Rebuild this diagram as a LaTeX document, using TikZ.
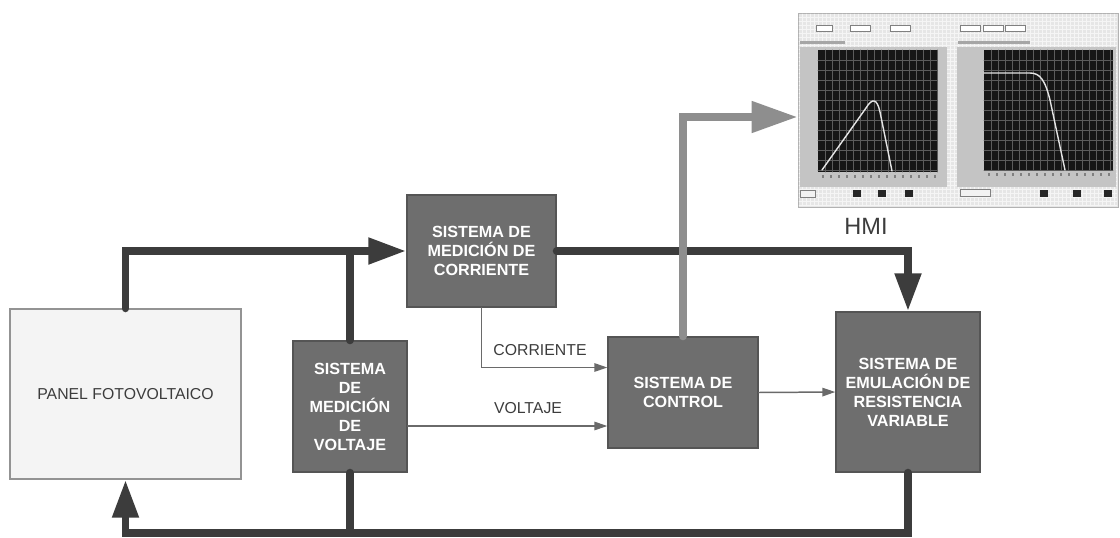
\documentclass[tikz,border=0pt]{standalone}
\usepackage{fontspec}
\setmainfont{Liberation Sans}
\usetikzlibrary{arrows.meta,positioning}
\definecolor{fvBox}{HTML}{6E6E6E}
\definecolor{fvEdge}{HTML}{555555}
\definecolor{fvInk}{HTML}{3C3C3C}
\definecolor{fvSignal}{HTML}{6A6A6A}
\definecolor{fvHmi}{HTML}{8E8E8E}
\definecolor{fvPanel}{HTML}{F4F4F4}
\definecolor{fvWin}{HTML}{E6E6E6}
\definecolor{fvFrame}{HTML}{C4C4C4}
\definecolor{fvPlot}{HTML}{161616}
\definecolor{fvGrid}{HTML}{5C5C5C}
\tikzset{
  fv diagram/.style={font=\fontsize{9}{10.8}\selectfont, text=fvInk,
    line cap=round, line join=miter},
  fv box/.style={draw=fvEdge, fill=fvBox, line width=0.8pt, text=white,
    font=\fontsize{9.2}{10.8}\selectfont\bfseries, align=center, inner sep=2pt},
  fv panel/.style={draw=gray!85, fill=fvPanel, line width=0.8pt, align=center},
  fv power/.style={draw=fvInk, line width=4.5pt},
  fv power arrow/.style={fv power, -{Triangle[length=0.76cm,width=0.5cm]}},
  fv signal/.style={draw=fvSignal, line width=0.85pt,
    -{Triangle[length=0.26cm,width=0.17cm]}},
  fv hmi arrow/.style={draw=fvHmi, line width=4.5pt,
    -{Triangle[length=0.92cm,width=0.6cm]}},
  fv label/.style={font=\fontsize{9}{10.8}\selectfont, text=fvInk},
  fv grid/.style={draw=fvGrid, line width=0.3pt},
  fv curve/.style={draw=white!80!gray, line width=0.8pt}
}
\begin{document}
\begin{tikzpicture}[fv diagram,x=0.02cm,y=-0.02cm]
\useasboundingbox (0,0) rectangle (1120,538);
% bloques
\node[fv panel,minimum width=4.62cm,minimum height=3.4cm] (panel) at (125.5,394) {PANEL FOTOVOLTAICO};
\node[fv box,minimum width=2.28cm,minimum height=2.62cm] (medV) at (350,406.5) {SISTEMA\\DE\\MEDICIÓN\\DE\\VOLTAJE};
\node[fv box,minimum width=2.98cm,minimum height=2.24cm] (medI) at (481.5,251) {SISTEMA DE\\MEDICIÓN DE\\CORRIENTE};
\node[fv box,minimum width=3cm,minimum height=2.22cm] (control) at (683,392.5) {SISTEMA DE\\CONTROL};
\node[fv box,minimum width=2.88cm,minimum height=3.2cm] (emul) at (908,392) {SISTEMA DE\\EMULACIÓN DE\\RESISTENCIA\\VARIABLE};
\node[draw=gray!60,fill=fvWin,line width=0.5pt,minimum width=6.4cm,minimum height=3.88cm,inner sep=0pt] (hmi) at (958,110) {};
\coordinate (bus) at (0,533);

% pantalla HMI
\foreach \gx in {802,806,...,1116}
  \draw[white!92!gray,line width=0.2pt] (\gx,14) -- (\gx,206);
\foreach \gy in {17,21,...,205}
  \draw[white!92!gray,line width=0.2pt] (799,\gy) -- (1117,\gy);
\foreach \bx/\bw in {816/16,850/20,890/20,960/20,983/20,1005/20}
  \draw[gray,fill=white,line width=0.3pt] (\bx,25) rectangle ++(\bw,6);
\fill[gray!70] (800,41) rectangle (845,44);
\fill[gray!70] (958,41) rectangle (1030,44);
\fill[fvFrame] (800,47) rectangle (947,187);
\fill[fvPlot] (818,50) rectangle (937,172);
\foreach \gx in {825,832,...,937}
  \draw[fv grid] (\gx,50) -- (\gx,172);
\foreach \gy in {60,70,...,170}
  \draw[fv grid] (818,\gy) -- (937,\gy);
\draw[fv curve] (822,170) -- (866,108) .. controls (872,98) and (877,98) .. (880,112) -- (892,171);
\fill[fvFrame] (957,47) rectangle (1116,187);
\fill[fvPlot] (984,50) rectangle (1113,170);
\foreach \gx in {991,998,...,1113}
  \draw[fv grid] (\gx,50) -- (\gx,170);
\foreach \gy in {60,70,...,170}
  \draw[fv grid] (984,\gy) -- (1113,\gy);
\draw[fv curve] (984,73) -- (1030,73) .. controls (1040,73) and (1045,80) .. (1050,100) -- (1065,170);
\foreach \gx in {822,830,...,934}
  \fill[gray] (\gx,175) rectangle ++(1.5,3);
\foreach \gx in {988,996,...,1110}
  \fill[gray] (\gx,173) rectangle ++(1.5,3);
\foreach \bx in {853,878,905,1040,1073,1104}
  \fill[black!85] (\bx,190) rectangle ++(8,7);
\draw[gray,fill=white!90!gray,line width=0.3pt] (800,190) rectangle (815,197);
\draw[gray,fill=white!90!gray,line width=0.3pt] (960,189) rectangle (990,196);

% conexiones
\draw[fv power arrow] (panel.north) |- (medI.west);
\draw[fv power] (medV.north) -- (medV.north |- medI.west);
\draw[fv power arrow] (medI.east) -| (emul.north);
\draw[fv power arrow] (emul.south) |- (bus -| panel.south) -- (panel.south);
\draw[fv power] (medV.south) -- (medV.south |- bus);
\draw[fv signal] (medI.south) |- ([yshift=0.5cm]control.west);
\draw[fv signal] ([yshift=-0.39cm]medV.east) -- ([yshift=-0.39cm]medV.east -| control.west);
\draw[fv signal] (control.east) -- (emul.west);
\draw[fv hmi arrow] (control.north) |- ([yshift=-0.14cm]hmi.west);

% etiquetas
\node[fv label] (lblI) at (540,350) {CORRIENTE};
\node[fv label] (lblV) at (528,408) {VOLTAJE};
\node[fv label,font=\fontsize{13.4}{16}\selectfont] (lblHmi) at (866,226) {HMI};
\end{tikzpicture}
\end{document}
